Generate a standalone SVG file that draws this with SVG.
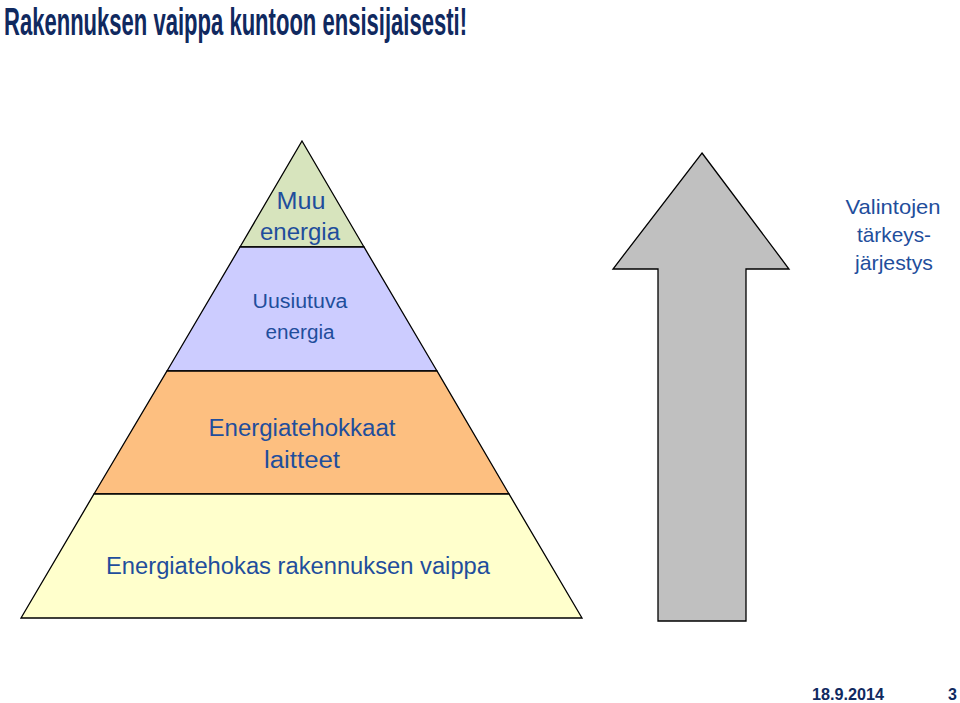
<svg xmlns="http://www.w3.org/2000/svg" width="960" height="703" viewBox="0 0 960 703">
<style>
.lbl{font-family:"Liberation Sans",Arial,sans-serif;fill:#1f4e9c;text-anchor:middle}
.band{stroke:#000;stroke-width:1.3}
.ttl{font-family:"Liberation Sans",Arial,sans-serif;font-weight:bold;fill:#10295f}
</style>
<rect width="960" height="703" fill="#fff"/>
<text class="ttl" x="4" y="35" font-size="38" textLength="463" lengthAdjust="spacingAndGlyphs">Rakennuksen vaippa kuntoon ensisijaisesti!</text>
<g id="band-muu">
<polygon class="band" points="302,141 364,247 240,247" fill="#d7e4bd"/>
<text class="lbl" x="301" y="209" font-size="23" textLength="49" lengthAdjust="spacingAndGlyphs">Muu</text>
<text class="lbl" x="300" y="240" font-size="23" textLength="80" lengthAdjust="spacingAndGlyphs">energia</text>
</g>
<g id="band-uusiutuva">
<polygon class="band" points="240,247 364,247 437,371 167,371" fill="#ccccff"/>
<text class="lbl" x="300" y="308" font-size="20" textLength="95" lengthAdjust="spacingAndGlyphs">Uusiutuva</text>
<text class="lbl" x="300" y="339" font-size="20" textLength="69" lengthAdjust="spacingAndGlyphs">energia</text>
</g>
<g id="band-laitteet">
<polygon class="band" points="167,371 437,371 509,494 94,494" fill="#fdbf80"/>
<text class="lbl" x="302" y="436" font-size="23" textLength="187" lengthAdjust="spacingAndGlyphs">Energiatehokkaat</text>
<text class="lbl" x="302" y="468" font-size="23" textLength="76" lengthAdjust="spacingAndGlyphs">laitteet</text>
</g>
<g id="band-vaippa">
<polygon class="band" points="94,494 509,494 582,618 21,618" fill="#ffffcc"/>
<text class="lbl" x="298" y="574" font-size="23" textLength="384" lengthAdjust="spacingAndGlyphs">Energiatehokas rakennuksen vaippa</text>
</g>
<g id="arrow">
<polygon points="702,153 789,269 746,269 746,621 658,621 658,269 613,269" fill="#c0c0c0" stroke="#000" stroke-width="1.3"/>
</g>
<g id="label-valintojen">
<text class="lbl" x="893" y="214" font-size="21" textLength="95" lengthAdjust="spacingAndGlyphs">Valintojen</text>
<text class="lbl" x="894" y="242" font-size="21" textLength="74" lengthAdjust="spacingAndGlyphs">tärkeys-</text>
<text class="lbl" x="894" y="270" font-size="21" textLength="78" lengthAdjust="spacingAndGlyphs">järjestys</text>
</g>
<text class="ttl" x="812" y="700" font-size="16" textLength="72" lengthAdjust="spacingAndGlyphs">18.9.2014</text>
<text class="ttl" x="948" y="700" font-size="16">3</text>
</svg>
